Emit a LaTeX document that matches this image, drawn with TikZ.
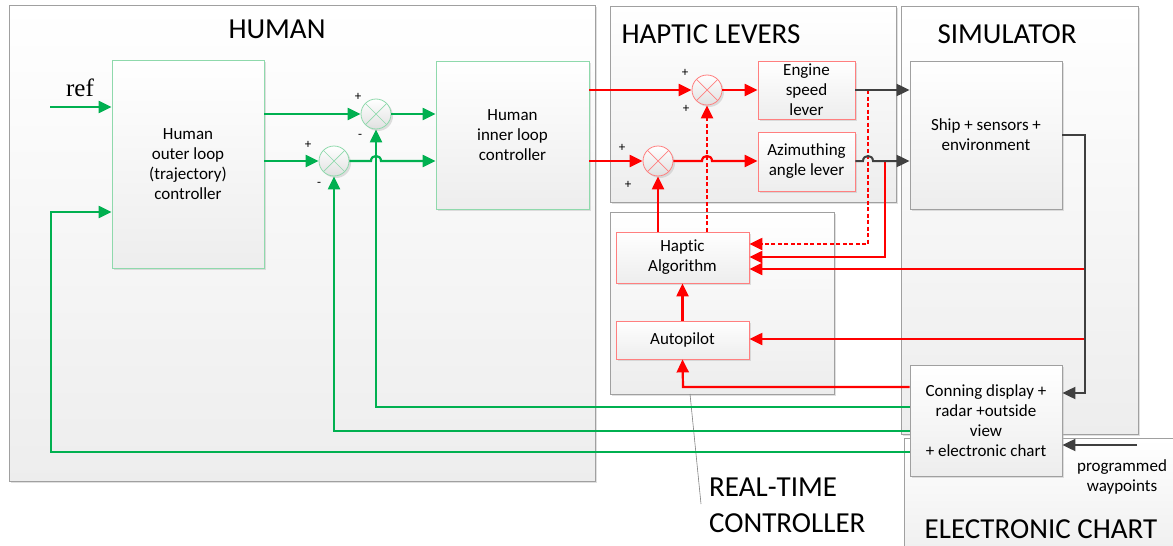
\documentclass[tikz,border=0pt]{standalone}
\usepackage{fontspec}
\setmainfont{Carlito}[Ligatures=NoCommon]
\newfontfamily\reffont{Liberation Serif}
\usetikzlibrary{arrows.meta,shadows,calc}
\definecolor{gline}{HTML}{00B050}
\definecolor{rline}{HTML}{FF0000}
\definecolor{kline}{HTML}{404040}
\definecolor{gborder}{HTML}{8FD9AC}
\definecolor{rborder}{HTML}{FF7F7F}
\definecolor{kborder}{HTML}{A0A0A0}
\begin{document}
\begin{tikzpicture}[x=1pt,y=-1pt,
  shad/.style={drop shadow={shadow xshift=2pt,shadow yshift=-2pt,opacity=0.4,fill=black!30}},
  bigbox/.style={draw=kborder, line width=0.8pt, top color=white, bottom color=black!7, shad, anchor=north west, inner sep=0pt},
  box/.style={rectangle, align=center, font=\fontsize{17}{20}\selectfont, top color=white, bottom color=black!7, line width=0.8pt, shad, inner sep=0pt},
  gbox/.style={box, draw=gborder},
  rbox/.style={box, draw=rborder},
  kbox/.style={box, draw=kborder},
  sum/.style={circle, minimum size=30pt, inner sep=0pt, top color=white, bottom color=black!12, line width=0.8pt, draw=#1, shad,
    path picture={\draw[#1, line width=0.7pt] (path picture bounding box.north west) -- (path picture bounding box.south east) (path picture bounding box.north east) -- (path picture bounding box.south west);}},
  title/.style={font=\fontsize{29}{36}\selectfont, inner sep=0pt},
  pm/.style={font=\fontsize{13}{13}\selectfont, inner sep=0pt},
  tip/.style={-{Triangle[length=13pt,width=12pt]}},
  garrow/.style={draw=gline, line width=2.2pt, tip},
  rarrow/.style={draw=rline, line width=2.2pt, tip},
  rdash/.style={draw=rline, line width=2.2pt, tip, dash pattern=on 4pt off 2.5pt},
  karrow/.style={draw=kline, line width=2pt, tip},
]
\useasboundingbox (0,0) rectangle (1173,546);
% containers
\node[bigbox, minimum width=586pt, minimum height=476pt] (humanbox) at (9,5) {};
\node[bigbox, minimum width=286pt, minimum height=196pt] (levbox) at (610,6) {};
\node[bigbox, minimum width=224pt, minimum height=182pt] (rtcbox) at (610,212) {};
\node[bigbox, minimum width=237pt, minimum height=428pt] (simbox) at (901,6) {};
\node[bigbox, minimum width=290pt, minimum height=130pt] (chartbox) at (904,438) {};
% titles
\node[title] (thuman) at (277,29) {HUMAN};
\node[title] (tlev) at (711,34) {HAPTIC LEVERS};
\node[title] (tsim) at (1007,34) {SIMULATOR};
\node[title] (tchart) at (1041,529) {ELECTRONIC CHART};
\node[title, align=left, anchor=west] (trtc) at (709,505) {REAL-TIME\\CONTROLLER};
\coordinate (lead0) at (690,394);
\coordinate (lead1) at (701,504);
\draw[kborder!80!black, line width=0.6pt] (lead0) -- (lead1);
% blocks
\node[gbox, minimum width=152pt, minimum height=208pt] (outer) at (188,164) {Human\\outer loop\\(trajectory)\\controller};
\node[gbox, minimum width=153pt, minimum height=148pt] (inner) at (512.5,135) {Human\\inner loop\\controller};
\node[rbox, minimum width=97pt, minimum height=58pt] (engine) at (806.5,90) {Engine\\speed\\lever};
\node[rbox, minimum width=97pt, minimum height=59pt] (azim) at (806.5,161.5) {Azimuthing\\angle lever};
\node[kbox, minimum width=152pt, minimum height=148pt] (ship) at (986,135) {Ship + sensors +\\environment};
\node[rbox, minimum width=133pt, minimum height=51pt] (haptic) at (682.5,257.5) {Haptic\\Algorithm};
\node[rbox, minimum width=133pt, minimum height=38pt] (auto) at (682.5,340) {Autopilot};
\node[kbox, minimum width=152pt, minimum height=111pt] (conning) at (986,420.5) {Conning display +\\radar +outside\\view\\+ electronic chart};
% summing junctions
\node[sum=gborder] (s1) at (376,114) {};
\node[sum=gborder] (s2) at (334,161) {};
\node[sum=rborder] (s3) at (707,90) {};
\node[sum=rborder] (s4) at (658,161) {};
% signs
\node[pm] (p1a) at (358,97) {+};
\node[pm] (p1b) at (360,136) {-};
\node[pm] (p2a) at (308,145) {+};
\node[pm] (p2b) at (319,184) {-};
\node[pm] (p3a) at (685,73) {+};
\node[pm] (p3b) at (686,109) {+};
\node[pm] (p4a) at (622,148) {+};
\node[pm] (p4b) at (628,185) {+};
% texts
\node[font=\reffont\fontsize{25}{25}\selectfont, inner sep=0pt] (reftext) at (80,88) {ref};
\node[font=\fontsize{17}{20}\selectfont, align=center, inner sep=0pt] (wptext) at (1122,477) {programmed\\waypoints};
% coordinates
\coordinate (refstart) at (50,107);
\coordinate (g1) at (376,407);
\coordinate (g2) at (334,431);
\coordinate (g3) at (51,452);
\coordinate (g3b) at (51,212);
\coordinate (r1) at (683,387);
\coordinate (d1) at (868,90);
\coordinate (d2) at (868,244);
\coordinate (e1) at (885,161);
\coordinate (e2) at (885,257);
\coordinate (k1) at (1085,135);
\coordinate (k2) at (1085,393);
\coordinate (k3) at (1085,269);
\coordinate (k4) at (1085,339);
\coordinate (wp) at (1137,445);
% green connectors
\draw[garrow] (refstart) -- (outer.west |- refstart);
\draw[garrow] (outer.east |- s1.west) -- (s1.west);
\draw[garrow] (outer.east |- s2.west) -- (s2.west);
\draw[garrow] (s1.east) -- (inner.west |- s1.east);
\draw[garrow] (s2.east) -- (371,161) .. controls (371,154.3) and (381,154.3) .. (381,161) -- (inner.west |- s2.east);
\draw[garrow] (conning.west |- g1) -- (g1) -- (s1.south);
\draw[garrow] (conning.west |- g2) -- (g2) -- (s2.south);
\draw[garrow] (conning.west |- g3) -- (g3) -- (g3b) -- (outer.west |- g3b);
% red connectors
\draw[rarrow] (inner.east |- s3.west) -- (s3.west);
\draw[rarrow] (inner.east |- s4.west) -- (s4.west);
\draw[rarrow] (s3.east) -- (engine.west);
\draw[rarrow] (s4.east) -- (702,161) .. controls (702,154.3) and (712,154.3) .. (712,161) -- (azim.west |- s4.east);
\draw[rarrow] (haptic.north -| s4.south) -- (s4.south);
\draw[rdash] (haptic.north -| s3.south) -- (s3.south);
\draw[rdash] (d1) -- (d2) -- (haptic.east |- d2);
\draw[rarrow] (e1) -- (e2) -- (haptic.east |- e2);
\draw[rarrow] (k3) -- (haptic.east |- k3);
\draw[rarrow] (auto.north) -- (haptic.south);
\draw[rarrow] (k4) -- (auto.east |- k4);
\draw[rarrow] (conning.west |- r1) -- (r1) -- (auto.south);
% gray connectors
\draw[karrow] (engine.east) -- (ship.west |- engine.east);
\draw[karrow] (azim.east |- e1) -- (863,161) .. controls (863,154.3) and (873,154.3) .. (873,161) -- (ship.west |- e1);
\draw[karrow] (ship.east) -- (k1) -- (k2) -- (conning.east |- k2);
\draw[karrow] (wp) -- (conning.east |- wp);
\end{tikzpicture}
\end{document}
